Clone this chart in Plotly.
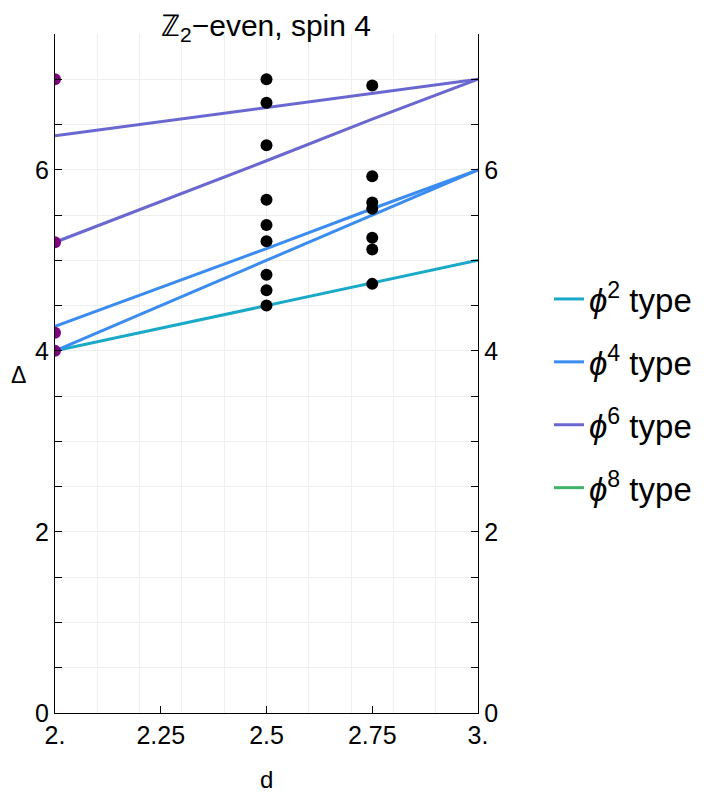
import plotly.graph_objects as go

# lines per operator type: x = d, y = Delta
d_line = [2.0, 2.5, 2.75, 3.0]
phi2_a = [4.0, 4.5, 4.75, 5.0]
phi4_a = [4.27, 5.13, 5.57, 6.0]
phi4_b = [4.0, 5.0, 5.5, 6.0]
phi6_a = [6.375, 6.69, 6.84, 7.0]
phi6_b = [5.2, 6.1, 6.56, 7.0]

# exact values in d = 2
d2_x = [2.0, 2.0, 2.0, 2.0]
d2_y = [7.0, 5.2, 4.2, 4.0]

# numerical data at d = 2.5 and d = 2.75
pts_x = [2.5] * 9 + [2.75] * 7
pts_y = [7.0, 6.74, 6.27, 5.67, 5.39, 5.21, 4.84, 4.67, 4.5,
         6.93, 5.93, 5.64, 5.57, 5.25, 5.12, 4.74]

x_ticks = [2.0, 2.25, 2.5, 2.75, 3.0]
x_labels = ["2.", "2.25", "2.5", "2.75", "3."]
x_grid = [2.1, 2.2, 2.3, 2.4, 2.5, 2.6, 2.7, 2.8, 2.9]
y_ticks = [0, 0.5, 1, 1.5, 2, 2.5, 3, 3.5, 4, 4.5, 5, 5.5, 6, 6.5, 7, 7.5]
y_labels = ["0", "", "", "", "2", "", "", "", "4", "", "", "", "6", "", "", ""]

c_phi2 = "#1aa9c7"
c_phi4 = "#3a8cf0"
c_phi6 = "#6a68d0"
c_phi8 = "#3db46a"

font = "Liberation Sans, Arial, sans-serif"

fig = go.Figure()

series = [
    (phi2_a, c_phi2, "<i>ϕ</i><sup>2</sup> type", "g2", True),
    (phi4_a, c_phi4, "<i>ϕ</i><sup>4</sup> type", "g4", True),
    (phi4_b, c_phi4, "", "g4", False),
    (phi6_a, c_phi6, "<i>ϕ</i><sup>6</sup> type", "g6", True),
    (phi6_b, c_phi6, "", "g6", False),
]
for ys, col, name, grp, show in series:
    fig.add_trace(go.Scatter(x=d_line, y=ys, mode="lines", name=name,
                             line=dict(color=col, width=3),
                             legendgroup=grp, showlegend=show))

# phi^8 type has no line in this range, legend only
fig.add_trace(go.Scatter(x=[None], y=[None], mode="lines",
                         name="<i>ϕ</i><sup>8</sup> type",
                         line=dict(color=c_phi8, width=3), legendgroup="g8"))

fig.add_trace(go.Scatter(x=d2_x, y=d2_y, mode="markers", showlegend=False,
                         marker=dict(color="#800080", size=12)))
fig.add_trace(go.Scatter(x=pts_x, y=pts_y, mode="markers", showlegend=False,
                         marker=dict(color="black", size=12)))

# dummy trace for the right-hand axis
fig.add_trace(go.Scatter(x=[None], y=[None], yaxis="y2", showlegend=False))

axis_common = dict(ticks="inside", ticklen=7, tickcolor="black", tickwidth=1,
                   showline=True, linecolor="black", linewidth=1.3,
                   zeroline=False, automargin=False,
                   tickfont=dict(size=25))

# the page body adds 8px, margins are set so the plot box lands at 55..478 x 34..713
fig.update_layout(
    width=717,
    height=797,
    margin=dict(l=47, r=247, t=26, b=92),
    plot_bgcolor="white",
    paper_bgcolor="white",
    font=dict(family=font, size=22, color="black"),
    title=dict(text="ℤ<sub>2</sub>−even, spin 4", x=(266 - 8) / 717,
               xanchor="center", y=1 - 17 / 797, yanchor="middle",
               yref="container", font=dict(size=30)),
    xaxis=dict(range=[2, 3], tickvals=x_ticks, ticktext=x_labels,
               showgrid=False,
               minor=dict(tickvals=x_grid, showgrid=True, gridcolor="#efefef",
                          gridwidth=1, ticks=""),
               **axis_common),
    yaxis=dict(range=[0, 7.5], tickvals=y_ticks, ticktext=y_labels,
               showgrid=True, gridcolor="#efefef", gridwidth=1,
               **axis_common),
    yaxis2=dict(range=[0, 7.5], tickvals=y_ticks, ticktext=y_labels,
                overlaying="y", side="right", showgrid=False,
                **axis_common),
    legend=dict(x=(549 - 55) / 423, y=(713 - 271) / 679,
                xanchor="left", yanchor="top",
                font=dict(size=33), tracegroupgap=17,
                bgcolor="rgba(0,0,0,0)"),
    annotations=[
        dict(text="Δ", x=(9 - 55) / 423, y=(713 - 375) / 679,
             xanchor="left", yanchor="middle",
             xref="paper", yref="paper", showarrow=False,
             font=dict(size=23)),
        dict(text="d", x=0.5, y=(713 - 779) / 679, xanchor="center",
             yanchor="middle", xref="paper", yref="paper",
             showarrow=False, font=dict(size=24)),
    ],
)

fig.write_html("out.html")
